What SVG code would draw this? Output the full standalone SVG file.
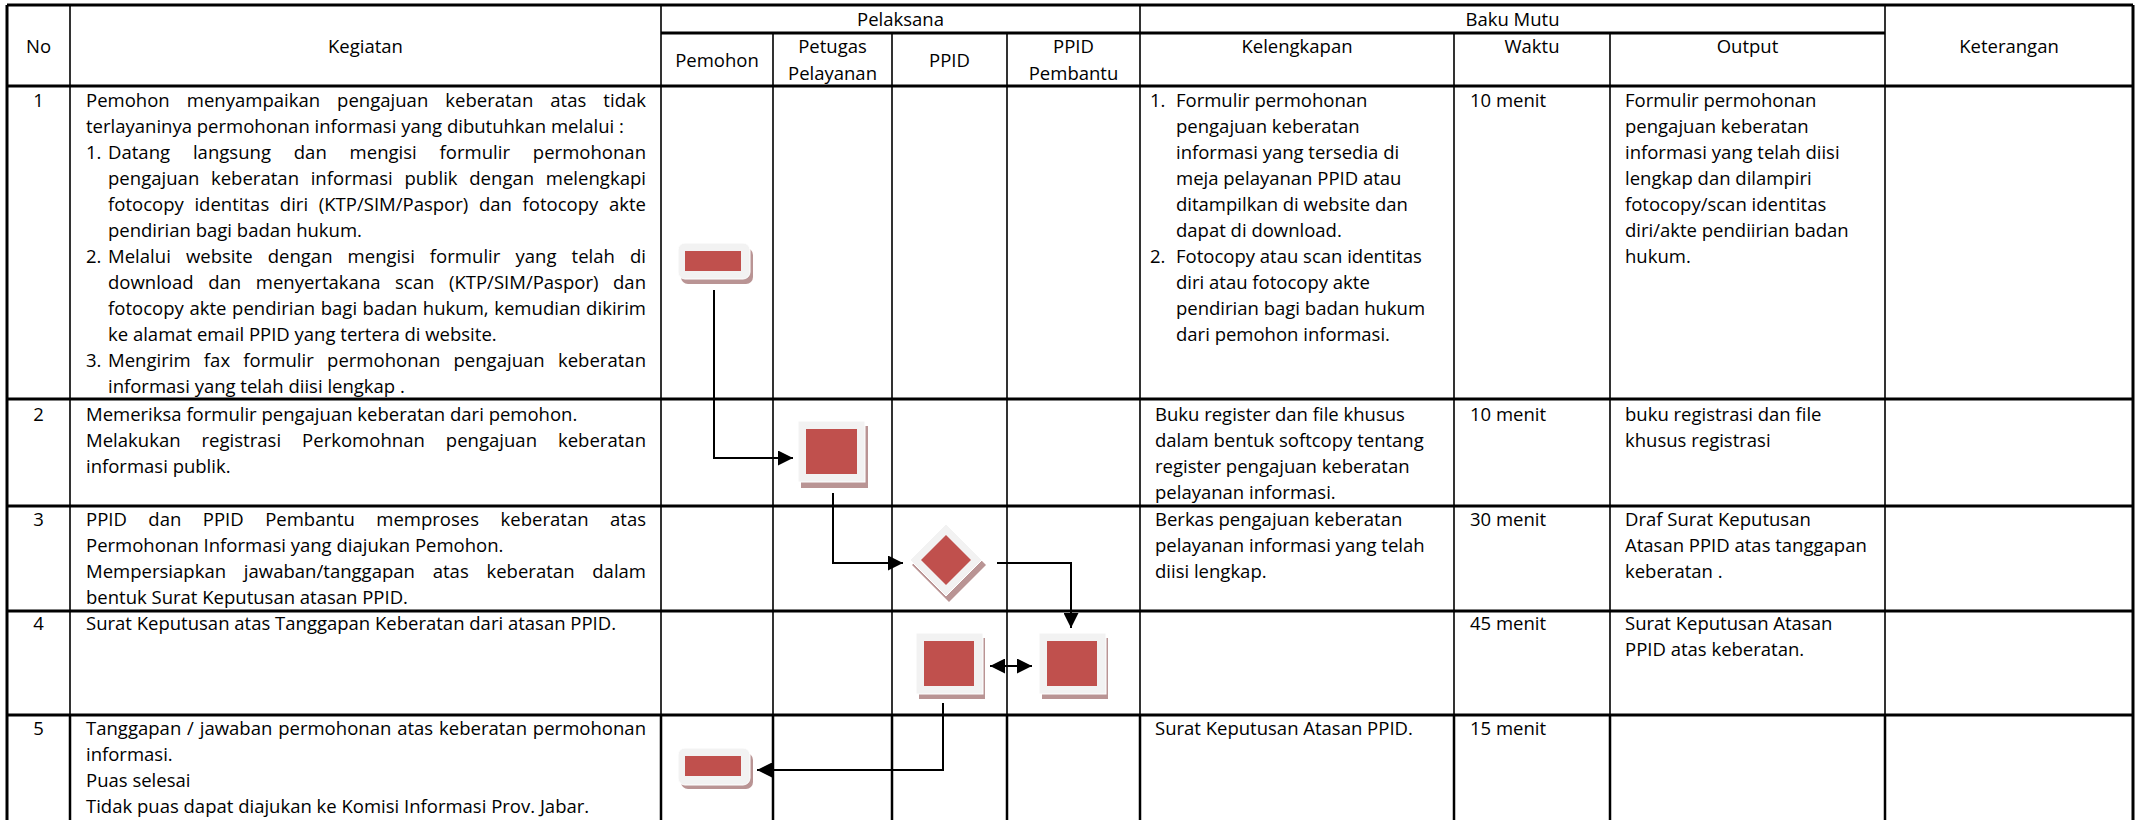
<svg xmlns="http://www.w3.org/2000/svg" width="2139" height="820" viewBox="0 0 2139 820">
  <style>
    .t { font-family: "Open Sans", "Noto Sans", "Liberation Sans", sans-serif; font-size: 18.5px; fill: #000; }
    .c { text-anchor: middle; }
    .h { stroke: #000; stroke-width: 3; fill: none; }
    .v { stroke: #000; stroke-width: 1.6; fill: none; }
    .vb { stroke: #000; stroke-width: 2.5; fill: none; }
    .frame { fill: #f2f2f2; stroke: #ffffff; stroke-width: 1; }
    .shadow { fill: #b99494; }
    .core { fill: #c0504d; }
    .conn { stroke: #000; stroke-width: 2; fill: none; }
  </style>
  <defs>
    <marker id="arrow" viewBox="0 0 15 15" refX="15" refY="7.5" markerWidth="15" markerHeight="15" markerUnits="userSpaceOnUse" orient="auto-start-reverse">
      <path d="M0,0 L15,7.5 L0,15 Z" fill="#000"/>
    </marker>
  </defs>

  <rect width="2139" height="820" fill="#fff"/>

  <!-- table grid -->
  <g id="grid">
    <path class="h" d="M7,5 H2133 M661,33 H1885 M7,86 H2133 M7,399 H2133 M7,506 H2133 M7,611 H2133 M7,715 H2133"/>
    <path class="v" d="M70,5 V715 M661,5 V715 M773,33 V715 M892,33 V715 M1007,33 V715 M1140,5 V715 M1454,33 V715 M1610,33 V715 M1885,5 V715"/>
    <path class="vb" d="M70,715 V820 M661,715 V820 M773,715 V820 M892,715 V820 M1007,715 V820 M1140,715 V820 M1454,715 V820 M1610,715 V820 M1885,715 V820"/>
    <path class="h" d="M7,5 V820 M2133,5 V820"/>
  </g>

  <!-- header -->
  <g id="header">
    <text class="t c" x="38.5" y="53">No</text>
    <text class="t c" x="365.5" y="53">Kegiatan</text>
    <text class="t c" x="900.5" y="26">Pelaksana</text>
    <text class="t c" x="717" y="67">Pemohon</text>
    <text class="t c" x="832.5" y="53">Petugas</text>
    <text class="t c" x="832.5" y="80">Pelayanan</text>
    <text class="t c" x="949.5" y="67">PPID</text>
    <text class="t c" x="1073.5" y="53">PPID</text>
    <text class="t c" x="1073.5" y="80">Pembantu</text>
    <text class="t c" x="1512.5" y="26">Baku Mutu</text>
    <text class="t c" x="1297" y="53">Kelengkapan</text>
    <text class="t c" x="1532" y="53">Waktu</text>
    <text class="t c" x="1747.5" y="53">Output</text>
    <text class="t c" x="2009" y="53">Keterangan</text>
  </g>

  <!-- row 1 (justified lines use word-spacing plus a textLength to pin the right edge) -->
  <g id="row1">
    <text class="t c" x="38.5" y="107">1</text>
    <text class="t" x="86" y="107" style="word-spacing:12.2px" textLength="560" lengthAdjust="spacing">Pemohon menyampaikan pengajuan keberatan atas tidak</text>
    <text class="t" x="86" y="133">terlayaninya permohonan informasi yang dibutuhkan melalui :</text>
    <text class="t" x="86" y="159">1.</text>
    <text class="t" x="108" y="159" style="word-spacing:18px" textLength="538" lengthAdjust="spacing">Datang langsung dan mengisi formulir permohonan</text>
    <text class="t" x="108" y="185" style="word-spacing:6.8px" textLength="538" lengthAdjust="spacing">pengajuan keberatan informasi publik dengan melengkapi</text>
    <text class="t" x="108" y="211" style="word-spacing:5.8px" textLength="538" lengthAdjust="spacing">fotocopy identitas diri (KTP/SIM/Paspor) dan fotocopy akte</text>
    <text class="t" x="108" y="237">pendirian bagi badan hukum.</text>
    <text class="t" x="86" y="263">2.</text>
    <text class="t" x="108" y="263" style="word-spacing:10.2px" textLength="538" lengthAdjust="spacing">Melalui website dengan mengisi formulir yang telah di</text>
    <text class="t" x="108" y="289" style="word-spacing:9.8px" textLength="538" lengthAdjust="spacing">download dan menyertakana scan (KTP/SIM/Paspor) dan</text>
    <text class="t" x="108" y="315" style="word-spacing:0.7px" textLength="538" lengthAdjust="spacing">fotocopy akte pendirian bagi badan hukum, kemudian dikirim</text>
    <text class="t" x="108" y="341">ke alamat email PPID yang tertera di website.</text>
    <text class="t" x="86" y="367">3.</text>
    <text class="t" x="108" y="367" style="word-spacing:8.4px" textLength="538" lengthAdjust="spacing">Mengirim fax formulir permohonan pengajuan keberatan</text>
    <text class="t" x="108" y="393">informasi yang telah diisi lengkap .</text>

    <text class="t" x="1150" y="107">1.</text>
    <text class="t" x="1176" y="107">Formulir permohonan</text>
    <text class="t" x="1176" y="133">pengajuan keberatan</text>
    <text class="t" x="1176" y="159">informasi yang tersedia di</text>
    <text class="t" x="1176" y="185">meja pelayanan PPID atau</text>
    <text class="t" x="1176" y="211">ditampilkan di website dan</text>
    <text class="t" x="1176" y="237">dapat di download.</text>
    <text class="t" x="1150" y="263">2.</text>
    <text class="t" x="1176" y="263">Fotocopy atau scan identitas</text>
    <text class="t" x="1176" y="289">diri atau fotocopy akte</text>
    <text class="t" x="1176" y="315">pendirian bagi badan hukum</text>
    <text class="t" x="1176" y="341">dari pemohon informasi.</text>

    <text class="t" x="1470" y="107">10 menit</text>

    <text class="t" x="1625" y="107">Formulir permohonan</text>
    <text class="t" x="1625" y="133">pengajuan keberatan</text>
    <text class="t" x="1625" y="159">informasi yang telah diisi</text>
    <text class="t" x="1625" y="185">lengkap dan dilampiri</text>
    <text class="t" x="1625" y="211">fotocopy/scan identitas</text>
    <text class="t" x="1625" y="237">diri/akte pendiirian badan</text>
    <text class="t" x="1625" y="263">hukum.</text>
  </g>

  <!-- row 2 -->
  <g id="row2">
    <text class="t c" x="38.5" y="421">2</text>
    <text class="t" x="86" y="421">Memeriksa formulir pengajuan keberatan dari pemohon.</text>
    <text class="t" x="86" y="447" style="word-spacing:16.1px" textLength="560" lengthAdjust="spacing">Melakukan registrasi Perkomohnan pengajuan keberatan</text>
    <text class="t" x="86" y="473">informasi publik.</text>
    <text class="t" x="1155" y="421">Buku register dan file khusus</text>
    <text class="t" x="1155" y="447">dalam bentuk softcopy tentang</text>
    <text class="t" x="1155" y="473">register pengajuan keberatan</text>
    <text class="t" x="1155" y="499">pelayanan informasi.</text>
    <text class="t" x="1470" y="421">10 menit</text>
    <text class="t" x="1625" y="421">buku registrasi dan file</text>
    <text class="t" x="1625" y="447">khusus registrasi</text>
  </g>

  <!-- row 3 -->
  <g id="row3">
    <text class="t c" x="38.5" y="526">3</text>
    <text class="t" x="86" y="526" style="word-spacing:16.6px" textLength="560" lengthAdjust="spacing">PPID dan PPID Pembantu memproses keberatan atas</text>
    <text class="t" x="86" y="552">Permohonan Informasi yang diajukan Pemohon.</text>
    <text class="t" x="86" y="578" style="word-spacing:12.9px" textLength="560" lengthAdjust="spacing">Mempersiapkan jawaban/tanggapan atas keberatan dalam</text>
    <text class="t" x="86" y="604">bentuk Surat Keputusan atasan PPID.</text>
    <text class="t" x="1155" y="526">Berkas pengajuan keberatan</text>
    <text class="t" x="1155" y="552">pelayanan informasi yang telah</text>
    <text class="t" x="1155" y="578">diisi lengkap.</text>
    <text class="t" x="1470" y="526">30 menit</text>
    <text class="t" x="1625" y="526">Draf Surat Keputusan</text>
    <text class="t" x="1625" y="552">Atasan PPID atas tanggapan</text>
    <text class="t" x="1625" y="578">keberatan .</text>
  </g>

  <!-- row 4 -->
  <g id="row4">
    <text class="t c" x="38.5" y="630">4</text>
    <text class="t" x="86" y="630">Surat Keputusan atas Tanggapan Keberatan dari atasan PPID.</text>
    <text class="t" x="1470" y="630">45 menit</text>
    <text class="t" x="1625" y="630">Surat Keputusan Atasan</text>
    <text class="t" x="1625" y="656">PPID atas keberatan.</text>
  </g>

  <!-- row 5 -->
  <g id="row5">
    <text class="t c" x="38.5" y="735">5</text>
    <text class="t" x="86" y="735" style="word-spacing:1px" textLength="560" lengthAdjust="spacing">Tanggapan / jawaban permohonan atas keberatan permohonan</text>
    <text class="t" x="86" y="761">informasi.</text>
    <text class="t" x="86" y="787">Puas selesai</text>
    <text class="t" x="86" y="813">Tidak puas dapat diajukan ke Komisi Informasi Prov. Jabar.</text>
    <text class="t" x="1155" y="735">Surat Keputusan Atasan PPID.</text>
    <text class="t" x="1470" y="735">15 menit</text>
  </g>

  <!-- flow connectors -->
  <g id="connectors">
    <path class="conn" d="M714,290 V458 H793" marker-end="url(#arrow)"/>
    <path class="conn" d="M833,493 V563 H903" marker-end="url(#arrow)"/>
    <path class="conn" d="M997,563 H1071 V628" marker-end="url(#arrow)"/>
    <path class="conn" d="M990,666 H1032" marker-start="url(#arrow)" marker-end="url(#arrow)"/>
    <path class="conn" d="M943,703 V770 H757" marker-end="url(#arrow)"/>
  </g>

  <!-- flow symbols -->
  <g id="start-pemohon">
    <rect class="shadow" x="681" y="248" width="72" height="36" rx="7"/>
    <rect class="frame" x="678" y="243" width="72" height="36" rx="7"/>
    <rect class="core" x="685" y="251" width="56" height="20"/>
  </g>
  <g id="proses-petugas">
    <rect class="shadow" x="801" y="426" width="67" height="62"/>
    <rect class="frame" x="798" y="421" width="67" height="61"/>
    <rect class="core" x="806" y="429" width="51" height="45"/>
  </g>
  <g id="keputusan-ppid">
    <polygon class="shadow" points="949,528 986,565 949,602 912,565"/>
    <polygon class="frame" points="946,524 982,560 946,596 910,560"/>
    <polygon class="core" points="946,535 971,560 946,585 921,560"/>
  </g>
  <g id="proses-ppid">
    <rect class="shadow" x="919" y="638" width="66" height="61"/>
    <rect class="frame" x="916" y="633" width="67" height="61"/>
    <rect class="core" x="924" y="641" width="50" height="45"/>
  </g>
  <g id="proses-pembantu">
    <rect class="shadow" x="1042" y="638" width="66" height="61"/>
    <rect class="frame" x="1039" y="633" width="67" height="61"/>
    <rect class="core" x="1047" y="641" width="50" height="45"/>
  </g>
  <g id="selesai-pemohon">
    <rect class="shadow" x="681" y="753" width="72" height="36" rx="7"/>
    <rect class="frame" x="678" y="748" width="72" height="37" rx="7"/>
    <rect class="core" x="685" y="756" width="56" height="20"/>
  </g>
</svg>
